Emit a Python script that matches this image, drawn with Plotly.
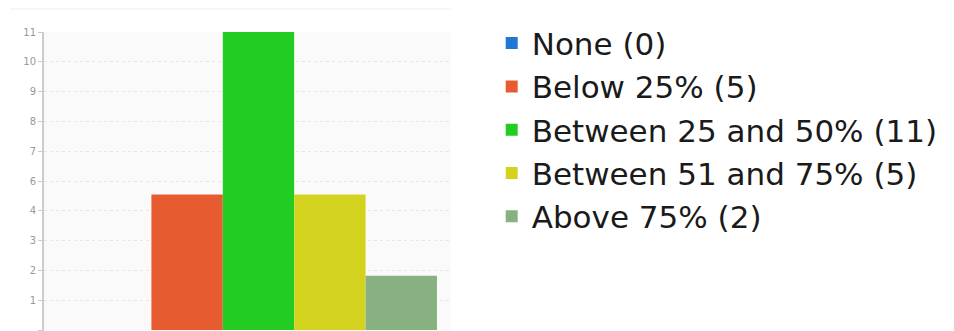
import plotly.graph_objects as go

series_names = ["None (0)", "Below 25% (5)", "Between 25 and 50% (11)",
                "Between 51 and 75% (5)", "Above 75% (2)"]
series_values = [0, 5, 11, 5, 2]
series_colors = ["#1f78d1", "#e65c30", "#22cc22", "#d3d31f", "#88b182"]
tick_values = [0, 1.1, 2.2, 3.3, 4.4, 5.5, 6.6, 7.7, 8.8, 9.9, 11]
tick_labels = ["0", "1", "2", "3", "4", "6", "7", "8", "9", "10", "11"]

fig = go.Figure()
for name, val, col in zip(series_names, series_values, series_colors):
    fig.add_trace(go.Bar(x=[0], y=[val], name=name, marker_color=col,
                         marker_line_width=0))

fig.update_layout(
    width=954, height=331,
    margin=dict(l=44, r=503, t=32, b=0),
    barmode="group", bargap=0.123, bargroupgap=0,
    paper_bgcolor="white", plot_bgcolor="#fafafa",
    font=dict(family="DejaVu Sans", color="#1a1a1a"),
    showlegend=True,
    legend=dict(x=1.10, y=1.052, xanchor="left", yanchor="top",
                font=dict(size=31, color="#1a1a1a"), bgcolor="rgba(0,0,0,0)",
                tracegroupgap=0, maxheight=600),
    xaxis=dict(range=[-0.527, 0.473], showticklabels=False, showgrid=False,
               zeroline=False, ticks=""),
    yaxis=dict(range=[-0.0367, 11], tickvals=tick_values, ticktext=tick_labels,
               showgrid=True, gridcolor="#e6e6e6", griddash="dot",
               zeroline=False, showline=True, linecolor="#cccccc", linewidth=2,
               ticks="outside", ticklen=4, tickcolor="#cccccc",
               tickfont=dict(size=10, color="#999999")),
    shapes=[dict(type="line", xref="paper", yref="paper",
                 x0=-34/407, x1=1.0, y0=(331-9)/299, y1=(331-9)/299,
                 line=dict(color="#eeeeee", width=1))],
)

fig.write_html("out.html")
